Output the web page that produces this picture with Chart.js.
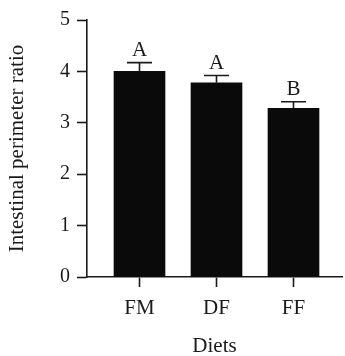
<!DOCTYPE html>
<html>
<head>
<meta charset="utf-8">
<script src="https://cdn.jsdelivr.net/npm/chart.js@4/dist/chart.umd.min.js"></script>
<style>
html,body{margin:0;padding:0;background:#fff;}
#wrap{width:345px;height:356px;position:relative;}
</style>
</head>
<body>
<div id="wrap"><canvas id="c" width="345" height="356"></canvas></div>
<script>
const categories = ['FM', 'DF', 'FF'];
const means = [4.00, 3.78, 3.28];
const errors = [0.17, 0.14, 0.13];
const letters = ['A', 'A', 'B'];
const yTicks = [0, 1, 2, 3, 4, 5];

const FONT = "'Liberation Serif', 'Times New Roman', serif";
const INK = '#1a1a1a';

const errorPlugin = {
  id: 'errs',
  afterDatasetsDraw(chart) {
    const xs = chart.scales.x, ys = chart.scales.y, ctx = chart.ctx;
    ctx.save();
    ctx.strokeStyle = INK;
    ctx.lineWidth = 1.6;
    ctx.fillStyle = INK;
    ctx.font = '21px ' + FONT;
    ctx.textAlign = 'center';
    ctx.textBaseline = 'alphabetic';
    means.forEach((m, i) => {
      const x = xs.getPixelForValue(i + 1);
      const yb = ys.getPixelForValue(m);
      const yt = ys.getPixelForValue(m + errors[i]);
      ctx.beginPath();
      ctx.moveTo(x, yb);
      ctx.lineTo(x, yt);
      ctx.moveTo(x - 12.5, yt);
      ctx.lineTo(x + 12.5, yt);
      ctx.stroke();
      ctx.fillText(letters[i], x, yt - 7);
    });
    ctx.restore();
  }
};

new Chart(document.getElementById('c'), {
  type: 'bar',
  data: {
    datasets: [{
      data: means.map((v, i) => ({x: i + 1, y: v})),
      backgroundColor: '#0a0a0a',
      borderWidth: 0,
      barThickness: 51
    }]
  },
  options: {
    responsive: false,
    animation: false,
    devicePixelRatio: 1,
    layout: {padding: {top: 20, right: 3, left: 0, bottom: 0}},
    plugins: {legend: {display: false}, tooltip: {enabled: false}},
    scales: {
      x: {
        type: 'linear',
        offset: false,
        min: 0.318,
        max: 3.63,
        afterBuildTicks: s => { s.ticks = categories.map((c, i) => ({value: i + 1})); },
        afterFit: s => { s.height = 79; },
        ticks: {
          callback: v => categories[v - 1],
          font: {family: FONT, size: 21},
          color: INK,
          padding: 9,
          maxRotation: 0,
          autoSkip: false
        },
        grid: {offset: false, drawOnChartArea: false, drawTicks: true, tickLength: 10, tickColor: INK, tickWidth: 1.6},
        border: {display: true, color: INK, width: 1.6},
        title: {display: true, text: 'Diets', font: {family: FONT, size: 21, lineHeight: 1}, color: INK, padding: {top: 0, bottom: -1}}
      },
      y: {
        min: 0,
        max: 5,
        afterBuildTicks: s => { s.ticks = yTicks.map(v => ({value: v})); },
        afterFit: s => { s.width = 87; },
        ticks: {
          font: {family: FONT, size: 20},
          color: INK,
          padding: 7
        },
        grid: {drawOnChartArea: false, drawTicks: true, tickLength: 10, tickColor: INK, tickWidth: 1.6},
        border: {display: true, color: INK, width: 1.6},
        title: {display: true, text: 'Intestinal perimeter ratio', font: {family: FONT, size: 21, lineHeight: 1}, color: INK, padding: {top: 7, bottom: 0}}
      }
    }
  },
  plugins: [errorPlugin]
});
</script>
</body>
</html>
